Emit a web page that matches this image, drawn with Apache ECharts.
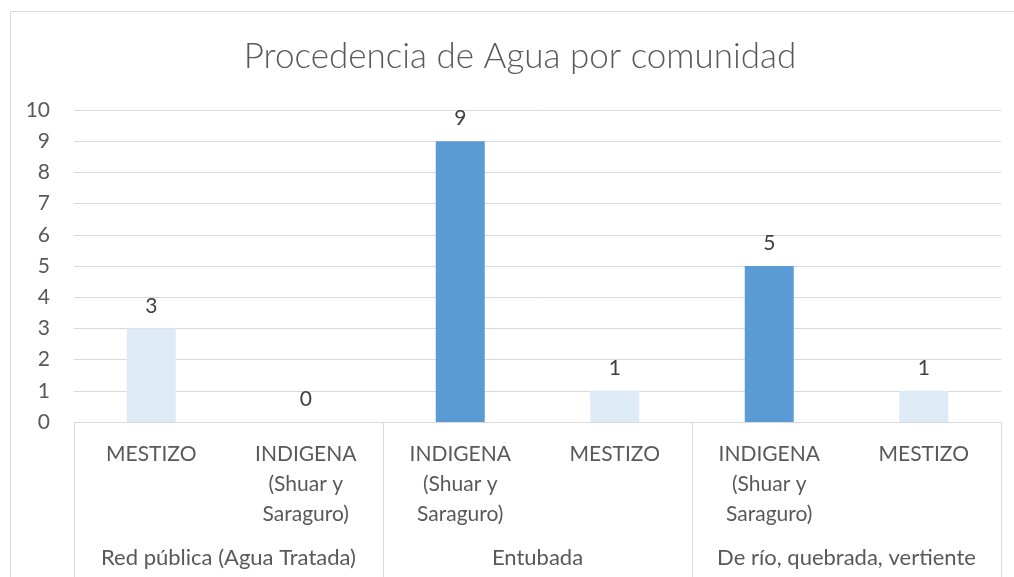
<!DOCTYPE html>
<html>
<head>
<meta charset="utf-8">
<title>Procedencia de Agua por comunidad</title>
<script src="https://cdn.jsdelivr.net/npm/echarts@6/dist/echarts.min.js"></script>
<style>
  html, body { margin: 0; padding: 0; background: #ffffff; }
  #chart { width: 1014px; height: 577px; }
</style>
</head>
<body>
<div id="chart"></div>
<script>
// Water source categories (outer level) and community groups (inner level)
const sources = ['Red pública (Agua Tratada)', 'Entubada', 'De río, quebrada, vertiente'];
const communities = [
  'MESTIZO', 'INDIGENA\n(Shuar y\nSaraguro)',
  'INDIGENA\n(Shuar y\nSaraguro)', 'MESTIZO',
  'INDIGENA\n(Shuar y\nSaraguro)', 'MESTIZO'
];
const counts = [3, 0, 9, 1, 5, 1];
const yTicks = [0, 1, 2, 3, 4, 5, 6, 7, 8, 9, 10];

const FONT = 'Lato, "Open Sans", sans-serif';
const DARK = '#5B9BD5';
const LIGHT = '#DEEBF7';
const GRID = '#D9D9D9';

const chart = echarts.init(document.getElementById('chart'), null, { renderer: 'canvas' });

const barData = counts.map((v, i) => ({
  value: v,
  itemStyle: { color: communities[i].startsWith('INDIGENA') ? DARK : LIGHT }
}));

chart.setOption({
  animation: false,
  backgroundColor: '#ffffff',
  textStyle: { fontFamily: FONT },
  graphic: [{
    type: 'rect',
    shape: { x: 10.5, y: 11.5, width: 1020, height: 620 },
    style: { fill: 'none', stroke: GRID, lineWidth: 1 },
    silent: true,
    z: -1
  }],
  title: {
    text: 'Procedencia de Agua por comunidad',
    left: 515,
    top: 34,
    textAlign: 'center',
    textStyle: { fontFamily: FONT, fontSize: 35, fontWeight: 300, color: '#595959' }
  },
  grid: { left: 74, right: 13, top: 110, bottom: 155, containLabel: false },
  xAxis: [
    {
      type: 'category',
      data: communities,
      position: 'bottom',
      axisLine: { show: true, lineStyle: { color: GRID, width: 1 } },
      axisTick: { show: false },
      axisLabel: {
        interval: 0,
        margin: 17,
        fontFamily: FONT,
        fontSize: 21,
        lineHeight: 30,
        color: '#595959',
        align: 'center'
      }
    },
    {
      type: 'category',
      data: sources,
      position: 'bottom',
      offset: 0,
      boundaryGap: true,
      axisLine: { show: false },
      axisTick: { show: true, inside: false, length: 170, lineStyle: { color: GRID, width: 1 } },
      axisLabel: {
        interval: 0,
        margin: 125,
        fontFamily: FONT,
        fontSize: 22,
        color: '#595959'
      }
    }
  ],
  yAxis: {
    type: 'value',
    min: yTicks[0],
    max: yTicks[yTicks.length - 1],
    interval: 1,
    axisLine: { show: false },
    axisTick: { show: false },
    splitLine: { lineStyle: { color: GRID, width: 1 } },
    axisLabel: { margin: 24, fontFamily: FONT, fontSize: 21, color: '#595959' }
  },
  series: [{
    type: 'bar',
    xAxisIndex: 0,
    data: barData,
    barWidth: 49,
    label: {
      show: true,
      position: 'top',
      distance: 12,
      fontFamily: FONT,
      fontSize: 21,
      color: '#404040'
    }
  }]
});
</script>
</body>
</html>
